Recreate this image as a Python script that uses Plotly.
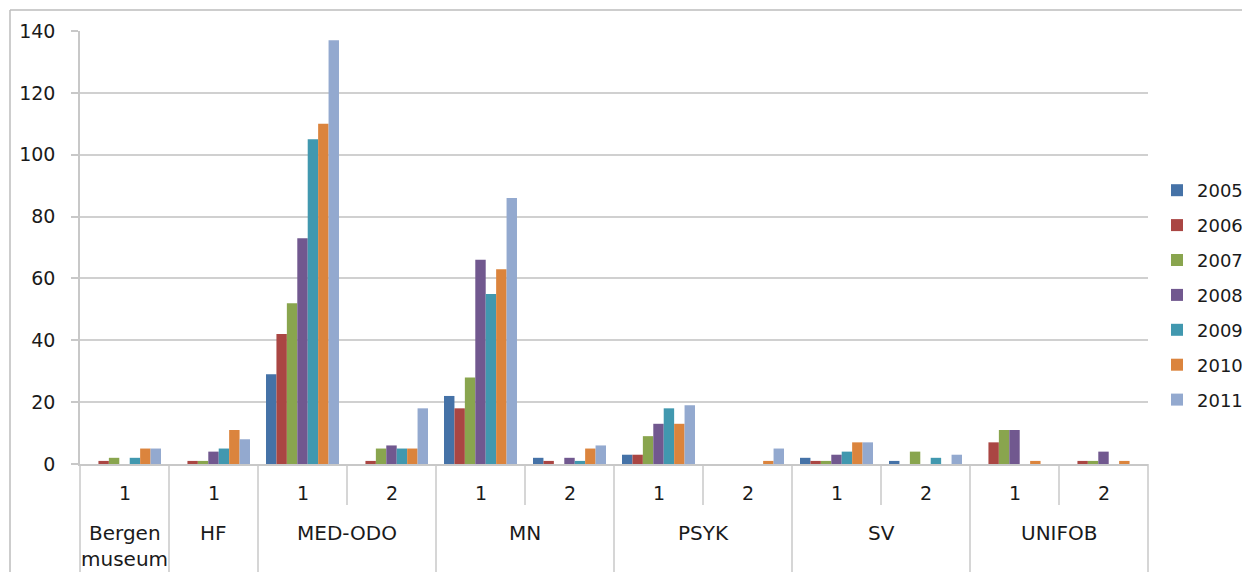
import plotly.graph_objects as go

groups = ["Bergen museum", "HF", "MED-ODO", "MED-ODO", "MN", "MN", "PSYK", "PSYK", "SV", "SV", "UNIFOB", "UNIFOB"]
subs = ["1", "1", "1", "2", "1", "2", "1", "2", "1", "2", "1", "2"]
years = ["2005", "2006", "2007", "2008", "2009", "2010", "2011"]

v2005 = [0, 0, 29, 0, 22, 2, 3, 0, 2, 1, 0, 0]
v2006 = [1, 1, 42, 1, 18, 1, 3, 0, 1, 0, 7, 1]
v2007 = [2, 1, 52, 5, 28, 0, 9, 0, 1, 4, 11, 1]
v2008 = [0, 4, 73, 6, 66, 2, 13, 0, 3, 0, 11, 4]
v2009 = [2, 5, 105, 5, 55, 1, 18, 0, 4, 2, 0, 0]
v2010 = [5, 11, 110, 5, 63, 5, 13, 1, 7, 0, 1, 1]
v2011 = [5, 8, 137, 18, 86, 6, 19, 5, 7, 3, 0, 0]
values = [v2005, v2006, v2007, v2008, v2009, v2010, v2011]

colors = ["#4572A7", "#AA4643", "#89A54E", "#71588F", "#4198AF", "#DB843D", "#93A9CF"]

cats = [f"{g} {s}" for g, s in zip(groups, subs)]
FONT = "DejaVu Sans"
TXT = "#1a1a1a"
GRID = "#D0D0D0"

fig = go.Figure()
for y, vals, c in zip(years, values, colors):
    fig.add_trace(go.Bar(x=cats, y=vals, name=y, marker=dict(color=c, line=dict(width=0)),
                         legendgroup=y))

n = len(cats)
OFF = 8  # page body offset
L, R, T, B = 80, 1148, 31, 464  # plot area in target pixels
W = float(R - L)
H = float(B - T)

def xp(px):
    return (px - L) / W

def yp(py):
    return (B - py) / H

shapes = []
annotations = []
shapes.append(dict(type="line", xref="paper", yref="paper", x0=xp(10), x1=xp(1262), y0=yp(10), y1=yp(10),
                   line=dict(color="#BDBDBD", width=1.5)))
shapes.append(dict(type="line", xref="paper", yref="paper", x0=xp(10), x1=xp(10), y0=yp(10), y1=yp(584),
                   line=dict(color="#BDBDBD", width=1.5)))

for b in range(n + 1):
    xb = b / n
    if b == 0 or b == n or groups[b - 1] != groups[b]:
        y1 = yp(584)
    else:
        y1 = yp(505)
    shapes.append(dict(type="line", xref="paper", yref="paper", x0=xb, x1=xb, y0=0, y1=y1,
                       line=dict(color="#C8C8C8", width=1.5)))

for i, s in enumerate(subs):
    annotations.append(dict(xref="paper", yref="paper", x=(i + 0.5) / n, y=yp(493), text=s, showarrow=False,
                            xanchor="center", yanchor="middle", font=dict(family=FONT, size=19, color=TXT)))

seen = []
for g in groups:
    if g not in seen:
        seen.append(g)
for g in seen:
    idx = [i for i, gg in enumerate(groups) if gg == g]
    cx = (min(idx) + max(idx) + 1) / 2 / n
    words = g.split(" ")
    for k, w in enumerate(words):
        annotations.append(dict(xref="paper", yref="paper", x=cx, y=yp(533 + 26 * k), text=w, showarrow=False,
                                xanchor="center", yanchor="middle", font=dict(family=FONT, size=20, color=TXT)))

fig.update_layout(
    width=1250, height=572,
    margin=dict(l=L - OFF, r=1250 - (R - OFF), t=T - OFF, b=572 - (B - OFF), autoexpand=False),
    paper_bgcolor="white", plot_bgcolor="white",
    barmode="group", bargap=0.18, bargroupgap=0,
    font=dict(family=FONT, size=17, color=TXT),
    shapes=shapes, annotations=annotations,
    legend=dict(x=xp(1157), y=yp(295), xanchor="left", yanchor="middle",
                font=dict(family=FONT, size=18, color=TXT), tracegroupgap=8.5,
                bgcolor="rgba(0,0,0,0)", itemwidth=30),
    xaxis=dict(type="category", showticklabels=False, showgrid=False, showline=True,
               linecolor="#C8C8C8", linewidth=1.5, ticks="", range=[-0.5, n - 0.5], fixedrange=True),
    yaxis=dict(range=[0, 140], dtick=20, tick0=0, showgrid=True, gridcolor=GRID, gridwidth=1.5,
               showline=True, linecolor="#C8C8C8", linewidth=1.5, ticks="outside", ticklen=7,
               tickcolor="#C8C8C8", tickwidth=1.5, zeroline=False,
               tickfont=dict(family=FONT, size=19, color=TXT), ticklabelstandoff=12),
)

fig.write_html("out.html")
